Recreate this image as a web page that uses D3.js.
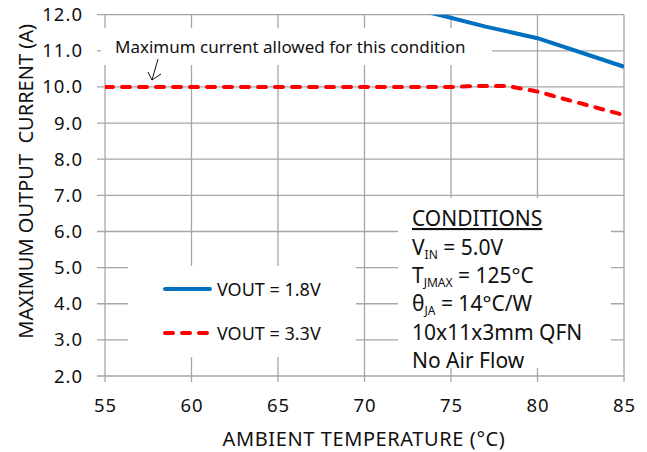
<!DOCTYPE html>
<html>
<head>
<meta charset="utf-8">
<script src="https://cdn.jsdelivr.net/npm/d3@7"></script>
<style>
  body { margin: 0; background: #fff; }
  text { font-family: "Noto Sans", sans-serif; fill: #111; }
</style>
</head>
<body>
<div id="chart"></div>
<script>
const xTicks = [55, 60, 65, 70, 75, 80, 85];
const yTicks = [2, 3, 4, 5, 6, 7, 8, 9, 10, 11, 12];

// VOUT = 1.8V (clipped above 12 A)
const temp18 = [70, 74.3, 77, 80, 85];
const amps18 = [12.47, 12.0, 11.67, 11.35, 10.56];

// VOUT = 3.3V
const temp33 = [55, 60, 65, 70, 75, 76, 77, 78, 79, 80, 81, 82, 83, 84, 85];
const amps33 = [10.0, 10.0, 10.0, 10.0, 10.0, 10.02, 10.03, 10.03, 9.96, 9.87, 9.74, 9.61, 9.48, 9.35, 9.22];

const conditions = ["V|IN| = 5.0V", "T|JMAX| = 125°C", "θ|JA| = 14°C/W", "10x11x3mm QFN", "No Air Flow"];

const W = 647, H = 452;
const margin = {top: 14.7, right: 23, bottom: 76, left: 105};
const gridColor = "#a6a6a6";

const svg = d3.select("#chart").append("svg")
  .attr("width", W)
  .attr("height", H);

const x = d3.scaleLinear().domain([55, 85]).range([margin.left, W - margin.right]);
const y = d3.scaleLinear().domain([2, 12]).range([H - margin.bottom, margin.top]);

// grid
const grid = svg.append("g").attr("stroke", gridColor).attr("stroke-width", 1.3);
grid.selectAll(".hg").data(yTicks).join("line")
  .attr("x1", x(55) - 8).attr("x2", x(85))
  .attr("y1", d => y(d)).attr("y2", d => y(d));
grid.selectAll(".vg").data(xTicks).join("line")
  .attr("x1", d => x(d)).attr("x2", d => x(d))
  .attr("y1", y(12)).attr("y2", y(2) + 6);

// white boxes that hide grid behind text
const boxes = [
  {x0: 101, y0: 28, x1: 492, y1: 65},
  {x0: 128, y0: 266, x1: 356, y1: 357},
  {x0: 398, y0: 198, x1: 611, y1: 368}
];
svg.append("g").selectAll("rect").data(boxes).join("rect")
  .attr("x", d => d.x0).attr("y", d => d.y0)
  .attr("width", d => d.x1 - d.x0).attr("height", d => d.y1 - d.y0)
  .attr("fill", "#fff");

// axis tick labels
svg.append("g").selectAll("text").data(yTicks).join("text")
  .attr("x", 83).attr("y", d => y(d) + 6.5)
  .attr("text-anchor", "end")
  .attr("font-size", 18.5)
  .attr("letter-spacing", 1)
  .text(d => d.toFixed(1));
svg.append("g").selectAll("text").data(xTicks).join("text")
  .attr("x", d => x(d) + 0.5).attr("y", 412)
  .attr("text-anchor", "middle")
  .attr("font-size", 18.5)
  .attr("letter-spacing", 1)
  .text(d => d);

// axis titles
svg.append("text")
  .attr("x", 364).attr("y", 446)
  .attr("text-anchor", "middle")
  .attr("font-size", 20)
  .attr("letter-spacing", 0.6)
  .text("AMBIENT TEMPERATURE (°C)");
svg.append("text")
  .attr("transform", `translate(33, ${(y(2) + y(12)) / 2 - 14}) rotate(-90)`)
  .attr("text-anchor", "middle")
  .attr("font-size", 20)
  .style("white-space", "pre")
  .text("MAXIMUM OUTPUT  CURRENT (A)");

// series
svg.append("defs").append("clipPath").attr("id", "plot")
  .append("rect")
  .attr("x", x(55)).attr("y", y(12))
  .attr("width", x(85) - x(55)).attr("height", y(2) - y(12));

const line = d3.line()
  .x(d => x(d[0]))
  .y(d => y(d[1]))
  .curve(d3.curveMonotoneX);

svg.append("path")
  .datum(d3.zip(temp33, amps33))
  .attr("clip-path", "url(#plot)")
  .attr("fill", "none")
  .attr("stroke", "#ff0000")
  .attr("stroke-width", 4)
  .attr("stroke-linecap", "round")
  .attr("stroke-dasharray", "8,9")
  .attr("d", line);

svg.append("path")
  .datum(d3.zip(temp18, amps18))
  .attr("clip-path", "url(#plot)")
  .attr("fill", "none")
  .attr("stroke", "#0070c0")
  .attr("stroke-width", 4)
  .attr("d", line.curve(d3.curveLinear));

// annotation
svg.append("text")
  .attr("x", 115).attr("y", 53)
  .attr("font-size", 17)
  .text("Maximum current allowed for this condition");
svg.append("path")
  .attr("d", "M158,59 L152,80 M148,72 L152,80 L161,74")
  .attr("fill", "none")
  .attr("stroke", "#111")
  .attr("stroke-width", 1);

// legend
const legend = [
  {label: "VOUT = 1.8V", color: "#0070c0", dash: null, yy: 289},
  {label: "VOUT = 3.3V", color: "#ff0000", dash: "8,9", yy: 333}
];
const lg = svg.append("g").selectAll("g").data(legend).join("g");
lg.append("line")
  .attr("x1", 165).attr("x2", 210)
  .attr("y1", d => d.yy).attr("y2", d => d.yy)
  .attr("stroke", d => d.color)
  .attr("stroke-width", 4)
  .attr("stroke-linecap", "round")
  .attr("stroke-dasharray", d => d.dash);
lg.append("text")
  .attr("x", 217).attr("y", d => d.yy + 6.5)
  .attr("font-size", 18)
  .text(d => d.label);

// conditions block
const cx = 412;
svg.append("text")
  .attr("x", cx).attr("y", 226)
  .attr("font-size", 21)
  .attr("text-decoration", "underline")
  .text("CONDITIONS");
conditions.forEach((c, i) => {
  const parts = c.split("|");
  const t = svg.append("text")
    .attr("x", cx).attr("y", 255 + i * 28.2)
    .attr("font-size", 21);
  t.append("tspan").text(parts[0]);
  if (parts.length > 1) {
    t.append("tspan").attr("font-size", 12).attr("dy", 3.5).text(parts[1]);
    t.append("tspan").attr("dy", -3.5).text(parts[2]);
  }
});
</script>
</body>
</html>
